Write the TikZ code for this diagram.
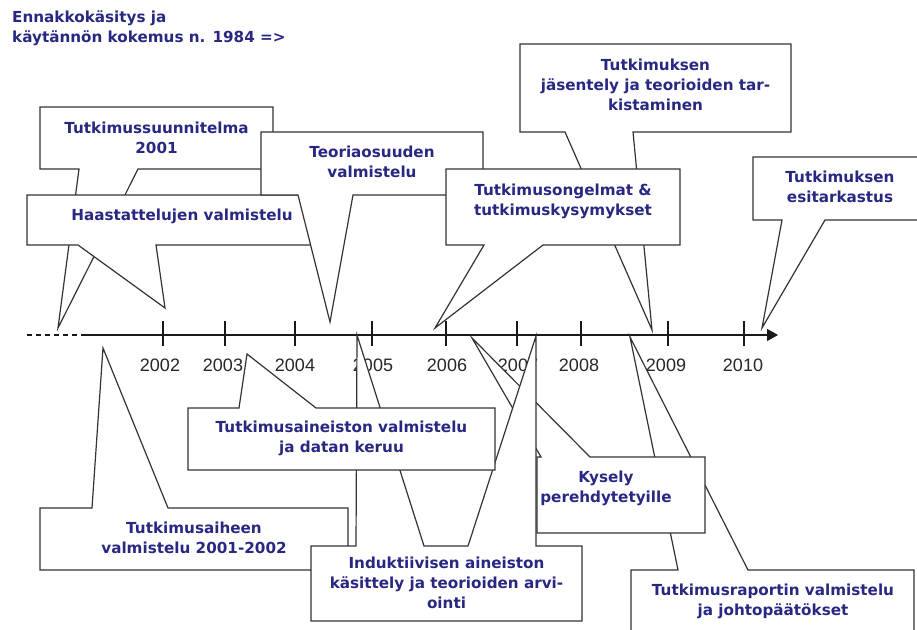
\documentclass[tikz,border=0pt]{standalone}
\usepackage{fontspec}
\setmainfont{DejaVu Sans}
\newfontfamily\yearfont{Liberation Sans}
\usetikzlibrary{arrows.meta}
\definecolor{textblue}{RGB}{40,40,130}
\tikzset{
  callout/.style={fill=white, draw=black!80, line width=1.2pt, line join=miter},
  boxtext/.style={text=textblue, font=\bfseries\fontsize{15.2}{20}\selectfont, align=center, anchor=north, inner sep=0pt},
  yearlabel/.style={text=black!85, font=\yearfont\fontsize{18}{20}\selectfont, anchor=base, inner sep=0pt},
  axisline/.style={draw=black!90, line width=1.2pt},
}
\begin{document}
\begin{tikzpicture}[x=1pt,y=-1pt]
        \useasboundingbox (0,0) rectangle (917,629);
        \clip (0,0) rectangle (917,629);
        %Axis
        \draw[axisline,-{Triangle[length=11pt,width=12pt]}] (82,335) -- (778,335);
        \draw[axisline,dash pattern=on 5pt off 4pt] (27,335) -- (163,335);
        \foreach \x/\lx/\yr in {163/160/2002,225/223/2003,295/295/2004,372/373/2005,446/447/2006,517/518/2007,581/579/2008,668/666/2009,744/743/2010}{
          \draw[axisline] (\x,321) -- (\x,346);
          \node[yearlabel] (y\yr) at (\lx,371) {\yr};
        }
        %Tips
        \coordinate (plantip) at (58,328);
        \coordinate (interviewtip) at (165,308);
        \coordinate (theorytip) at (330,322);
        \coordinate (structuretip) at (652,330);
        \coordinate (problemtip) at (435,328);
        \coordinate (reviewtip) at (762,328);
        \coordinate (topictip) at (103,348);
        \coordinate (reporttip) at (630,337);
        \coordinate (surveytip) at (472,338);
        \coordinate (inductivetipa) at (357,335);
        \coordinate (inductivetipb) at (536,336);
        \coordinate (datatip) at (247,354);
        %Upper callouts
        \filldraw[callout] (40,107) -- (273,107) -- (273,169) -- (138,169) -- (plantip) -- (79,169) -- (40,169) -- cycle;
        \node[boxtext] (plan) at (156.5,121.5) {Tutkimussuunnitelma\\2001};
        \filldraw[callout] (27,195) -- (337,195) -- (337,245) -- (156,245) -- (interviewtip) -- (78,245) -- (27,245) -- cycle;
        \node[boxtext] (interview) at (182,208.5) {Haastattelujen valmistelu};
        \filldraw[callout] (261,132) -- (483,132) -- (483,195) -- (353,195) -- (theorytip) -- (298,195) -- (261,195) -- cycle;
        \node[boxtext] (theory) at (372,145.5) {Teoriaosuuden\\valmistelu};
        \filldraw[callout] (520,44) -- (791,44) -- (791,132) -- (633,132) -- (structuretip) -- (565,132) -- (520,132) -- cycle;
        \node[boxtext] (structure) at (655.5,58.5) {Tutkimuksen\\jäsentely ja teorioiden tar-\\kistaminen};
        \filldraw[callout] (446,169) -- (680,169) -- (680,245) -- (543,245) -- (problemtip) -- (484,245) -- (446,245) -- cycle;
        \node[boxtext] (problem) at (563,183.5) {Tutkimusongelmat \&\\tutkimuskysymykset};
        \filldraw[callout] (753,157) -- (930,157) -- (930,220) -- (825,220) -- (reviewtip) -- (782,220) -- (753,220) -- cycle;
        \node[boxtext] (review) at (840,170.5) {Tutkimuksen\\esitarkastus};
        %Lower callouts
        \filldraw[callout] (40,508) -- (92,508) -- (topictip) -- (168,508) -- (348,508) -- (348,570) -- (40,570) -- cycle;
        \node[boxtext] (topic) at (194,521.5) {Tutkimusaiheen\\valmistelu 2001-2002};
        \filldraw[callout] (631,570) -- (678,570) -- (reporttip) -- (748,570) -- (914,570) -- (914,640) -- (631,640) -- cycle;
        \node[boxtext] (report) at (773,583.5) {Tutkimusraportin valmistelu\\ja johtopäätökset};
        \filldraw[callout] (537,457) -- (541,457) -- (surveytip) -- (590,457) -- (705,457) -- (705,533) -- (537,533) -- cycle;
        \node[boxtext] (survey) at (606,470.5) {Kysely\\perehdytetyille};
        \filldraw[callout] (311,546) -- (356,546) -- (inductivetipa) -- (424,546) -- (468,546) -- (inductivetipb) -- (536,546) -- (582,546) -- (582,621) -- (311,621) -- cycle;
        \node[boxtext] (inductive) at (446.5,556.5) {Induktiivisen aineiston\\käsittely ja teorioiden arvi-\\ointi};
        \filldraw[callout] (188,408) -- (239,408) -- (datatip) -- (316,408) -- (495,408) -- (495,470) -- (188,470) -- cycle;
        \node[boxtext] (data) at (341.5,420.5) {Tutkimusaineiston valmistelu\\ja datan keruu};
        %Title
        \node[boxtext,anchor=north west,align=left] (intro) at (12,10.5) {Ennakkokäsitys ja\\käytännön kokemus n. 1984 =>};
\end{tikzpicture}
\end{document}
